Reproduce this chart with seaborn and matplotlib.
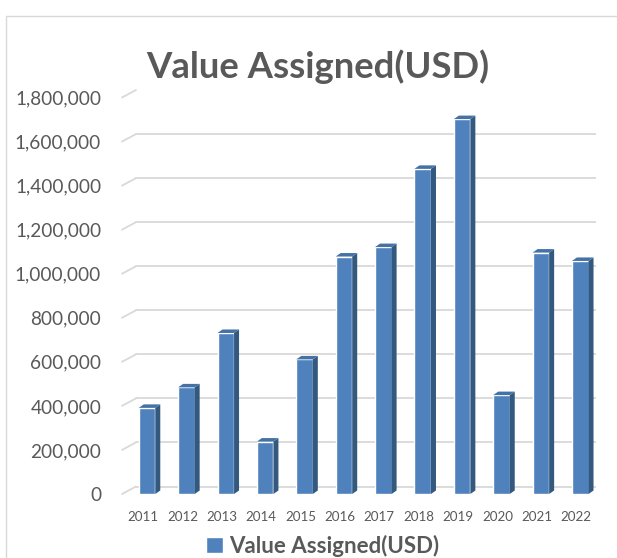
import matplotlib
matplotlib.use('Agg')
import matplotlib.pyplot as plt
import matplotlib.transforms as mtransforms
from matplotlib.patches import Polygon, Rectangle
from matplotlib.ticker import StrMethodFormatter
import seaborn as sns

years = ['2011', '2012', '2013', '2014', '2015', '2016',
         '2017', '2018', '2019', '2020', '2021', '2022']
value_assigned = [391000, 484000, 731000, 238000, 611000, 1078000,
                  1121000, 1476000, 1702000, 449000, 1096000, 1058000]
y_ticks = [0, 200000, 400000, 600000, 800000, 1000000,
           1200000, 1400000, 1600000, 1800000]
series_name = 'Value Assigned(USD)'

sns.set_style('white')
plt.rcParams['font.family'] = ['Lato', 'DejaVu Sans']

front = '#4f81bd'
side = '#34597f'
top = '#4472a6'
grid = '#d9d9d9'
text_grey = '#595959'

W, H = 617, 558
fig = plt.figure(figsize=(W / 100, H / 100), dpi=100)
ax = fig.add_axes([122 / W, 64 / H, 474 / W, 396.5 / H])

sns.barplot(x=years, y=value_assigned, color=front, saturation=1,
            width=0.42, label=series_name, ax=ax, zorder=3)
handles, labels = ax.get_legend_handles_labels()
if ax.get_legend() is not None:
    ax.get_legend().remove()

ax.set_xlim(-0.635, 11.40)
ax.set_ylim(0, 1800000)
ax.set_yticks(y_ticks)
ax.yaxis.set_major_formatter(StrMethodFormatter('{x:,.0f}'))
ax.set_xlabel('')
ax.set_ylabel('')
sns.despine(ax=ax, left=True, bottom=True)
ax.tick_params(axis='y', length=0, pad=15, labelsize=13.7,
               labelcolor=text_grey)
ax.tick_params(axis='x', length=0, pad=12, labelsize=9.6,
               labelcolor=text_grey)

# back wall gridlines, shifted up-right to fake the 3D depth
back = mtransforms.ScaledTranslation(14 / 100, 7.5 / 100, fig.dpi_scale_trans)
for v in y_ticks:
    gl = ax.axhline(v, color=grid, lw=1.3, zorder=0)
    gl.set_transform(gl.get_transform() + back)
    ax.annotate('', xy=(0, v), xycoords=ax.get_yaxis_transform(),
                xytext=(14 * 0.72, 7.5 * 0.72), textcoords='offset points',
                arrowprops=dict(arrowstyle='-', color=grid, lw=1.3,
                                shrinkA=0, shrinkB=0))

shift = mtransforms.ScaledTranslation(-4 / 100, 0, fig.dpi_scale_trans)
for lab in ax.get_xticklabels():
    lab.set_transform(lab.get_transform() + shift)

# side and top faces of the columns
dx, dy = 5, 3.5
for bar in ax.patches:
    x0, y0 = ax.transData.transform((bar.get_x(), 0))
    x1, y1 = ax.transData.transform((bar.get_x() + bar.get_width(),
                                     bar.get_height()))
    ax.add_artist(Polygon([(x1, y0), (x1 + dx, y0 + dy),
                           (x1 + dx, y1 + dy), (x1, y1)],
                          closed=True, transform=None, fc=side, ec='none',
                          zorder=3))
    ax.add_artist(Polygon([(x0, y1), (x0 + dx, y1 + dy),
                           (x1 + dx, y1 + dy), (x1, y1)],
                          closed=True, transform=None, fc=top, ec='none',
                          zorder=3))

fig.text(317.5 / W, 1 - 78 / H, series_name, ha='center', va='baseline',
         fontsize=26.3, fontweight='bold', color=text_grey)

fig.legend(handles, labels, loc='center', bbox_to_anchor=(323 / W, 1 - 546 / H),
           frameon=False, prop={'weight': 'bold', 'size': 16},
           labelcolor=text_grey, handlelength=0.75, handleheight=0.75,
           handletextpad=0.3)

fig.add_artist(Rectangle((6 / W, -0.1), 1.0, (H - 16) / H + 0.1,
                         transform=fig.transFigure, fill=False,
                         ec=grid, lw=1.0))

fig.savefig('out.png', dpi=100)
